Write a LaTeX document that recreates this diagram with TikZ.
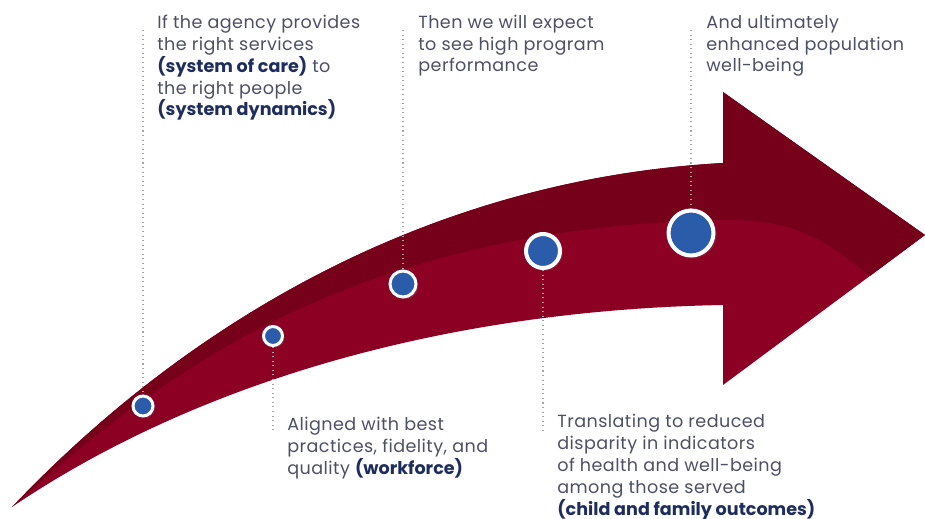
\documentclass[tikz,border=0pt]{standalone}
\usepackage{fontspec}
\setmainfont{Poppins}[LetterSpace=2.5, BoldFeatures={LetterSpace=0}]
\usetikzlibrary{shadows}

\begin{document}
\begin{tikzpicture}[x=0.02cm,y=-0.02cm]

% Define ribbon and text colors
\definecolor{ribbonred}{RGB}{140,0,36}
\definecolor{ribbondark}{RGB}{118,0,26}
\definecolor{dotblue}{RGB}{42,92,170}
\definecolor{textgrey}{RGB}{76,80,102}
\definecolor{textnavy}{RGB}{30,45,94}

\tikzset{
step dot/.style={circle, fill=dotblue, draw=white, line width=0.06cm, inner sep=0pt,
    circular drop shadow={shadow xshift=.25mm, shadow yshift=-.25mm, opacity=.35}},
guide/.style={draw=gray!70, dotted, line width=0.6pt},
caption/.style={anchor=base west, inner sep=0pt, align=left, text=textgrey,
    font=\fontsize{10}{12.5}\selectfont}
}

\useasboundingbox (0,0) rectangle (925,519);

% the curved arrow, light body first, then the darker upper band
\fill[ribbonred] (12,507) .. controls (180,330) and (420,180) .. (723,163) -- (723,92)
    -- (925,235) -- (723,385) -- (723,305) .. controls (450,310) and (200,380) .. cycle;
\fill[ribbondark] (12,507) .. controls (180,330) and (420,180) .. (723,163) -- (723,92)
    -- (925,235) -- (870,276) .. controls (830,245) and (800,218) .. (720,220)
    .. controls (360,228) and (170,365) .. cycle;

% milestones along the arrow
\node[step dot, minimum size=0.40cm] (d1) at (143,406) {};
\node[step dot, minimum size=0.38cm] (d2) at (273,336) {};
\node[step dot, minimum size=0.52cm] (d3) at (403,284) {};
\node[step dot, minimum size=0.68cm, line width=0.08cm] (d4) at (543,251) {};
\node[step dot, minimum size=0.90cm, line width=0.08cm] (d5) at (691,233) {};

% ends of the dotted leaders
\coordinate (t1) at (143,30);
\coordinate (t3) at (403,30);
\coordinate (t5) at (691,30);
\coordinate (b2) at (273,432);
\coordinate (b4) at (543,432);

\draw[guide] (t1) -- (d1);
\draw[guide] (d2) -- (b2);
\draw[guide] (t3) -- (d3);
\draw[guide] (d4) -- (b4);
\draw[guide] (t5) -- (d5);

% captions (base = baseline of the last line)
\node[caption] (txt1) at (157,116) {If the agency provides\\the right services\\{\color{textnavy}\bfseries(system of care)} to\\the right people\\{\color{textnavy}\bfseries(system dynamics)}};
\node[caption] (txt3) at (418,72) {Then we will expect\\to see high program\\performance};
\node[caption] (txt5) at (706,72) {And ultimately\\enhanced population\\well-being};
\node[caption] (txt2) at (287,474) {Aligned with best\\practices, fidelity, and\\quality {\color{textnavy}\bfseries(workforce)}};
\node[caption] (txt4) at (557,515) {Translating to reduced\\disparity in indicators\\of health and well-being\\among those served\\{\color{textnavy}\bfseries(child and family outcomes)}};

\end{tikzpicture}
\end{document}
